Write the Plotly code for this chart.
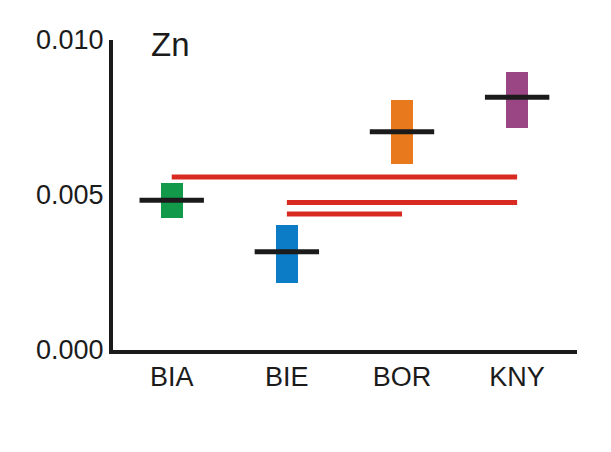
import plotly.graph_objects as go

categories = ["BIA", "BIE", "BOR", "KNY"]
range_low = [0.00425, 0.00215, 0.00599, 0.00716]
range_high = [0.00539, 0.00403, 0.00806, 0.00896]
medians = [0.00483, 0.00317, 0.00704, 0.00815]
box_colors = ["#13994a", "#0b7cc5", "#e87a1d", "#9a4584"]

sig_from = ["BIA", "BIE", "BIE"]
sig_to = ["KNY", "KNY", "BOR"]
sig_level = [0.00558, 0.00476, 0.00439]

y_tickvals = [0.0, 0.005, 0.010]
y_ticktext = ["0.000", "0.005", "0.010"]

FONT = "Arial, Liberation Sans, Helvetica, sans-serif"
INK = "#1b1b1b"

fig = go.Figure()

fig.add_trace(go.Bar(
    x=categories,
    y=[h - l for h, l in zip(range_high, range_low)],
    base=range_low,
    width=0.19,
    marker=dict(color=box_colors, line=dict(width=0)),
    showlegend=False,
    hoverinfo="skip",
))

fig.add_trace(go.Scatter(
    x=categories,
    y=medians,
    mode="markers",
    marker=dict(symbol="line-ew", size=46, line=dict(width=5, color=INK)),
    showlegend=False,
    hoverinfo="skip",
))

for a, b, v in zip(sig_from, sig_to, sig_level):
    fig.add_trace(go.Scatter(
        x=[a, b],
        y=[v, v],
        mode="lines",
        line=dict(color="#d92a21", width=5),
        showlegend=False,
        hoverinfo="skip",
    ))

fig.add_annotation(
    x="BIA", xref="x", y=1.0, yref="paper",
    text="Zn", showarrow=False,
    font=dict(family=FONT, size=33, color=INK),
    yanchor="middle", yshift=-4, xshift=-1,
)

fig.update_layout(
    width=603, height=444,
    margin=dict(l=105, r=34, t=32, b=102),
    paper_bgcolor="white",
    plot_bgcolor="white",
    font=dict(family=FONT, size=27, color=INK),
    bargap=0,
)

fig.update_xaxes(
    type="category",
    categoryorder="array", categoryarray=categories,
    range=[-0.51, 3.52],
    showline=True, linewidth=4, linecolor=INK,
    showgrid=False, zeroline=False, ticks="",
    tickfont=dict(family=FONT, size=27, color=INK),
)

fig.update_yaxes(
    range=[0, 0.010],
    tickvals=y_tickvals, ticktext=y_ticktext,
    showline=True, linewidth=4, linecolor=INK,
    showgrid=False, zeroline=False, ticks="",
    tickfont=dict(family=FONT, size=27, color=INK),
)

fig.write_html("out.html")
